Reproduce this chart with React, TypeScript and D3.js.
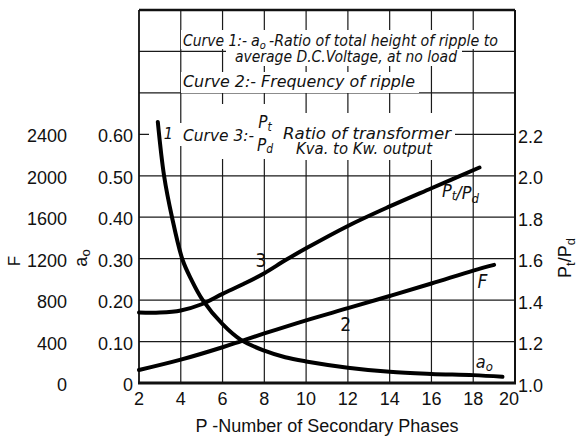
import React from "react";
import * as d3 from "d3";

// ---- data ----
const xTicks = [2, 4, 6, 8, 10, 12, 14, 16, 18, 20];
const a0Ticks = [0, 0.1, 0.2, 0.3, 0.4, 0.5, 0.6];
const a0TickLabels = ["0", "0.10", "0.20", "0.30", "0.40", "0.50", "0.60"];
const fTicks = [0, 400, 800, 1200, 1600, 2000, 2400];
const rTicks = [1.0, 1.2, 1.4, 1.6, 1.8, 2.0, 2.2];
const rTickLabels = ["1.0", "1.2", "1.4", "1.6", "1.8", "2.0", "2.2"];

// Curve 1: a0 ripple ratio
const curve1P = [2.9, 3.2, 3.58, 4.08, 4.5, 5.05, 6, 6.88, 8, 9, 10, 12, 14, 16, 18, 19.4];
const curve1A0 = [0.63, 0.5, 0.4, 0.298, 0.25, 0.2, 0.142, 0.104, 0.078, 0.062, 0.052, 0.037, 0.027, 0.022, 0.019, 0.015];

// Curve 2: frequency of ripple F
const curve2P = [2, 4, 6, 6.9, 8, 10, 12, 14, 16, 18, 19];
const curve2F = [125, 225, 345, 405, 478, 605, 722, 840, 960, 1085, 1140];

// Curve 3: Pt/Pd
const curve3P = [2, 3, 4, 5, 6, 7, 8, 9, 10, 12, 14, 16, 18.3];
const curve3R = [1.34, 1.34, 1.35, 1.38, 1.43, 1.478, 1.53, 1.592, 1.65, 1.758, 1.852, 1.94, 2.04];

const SANS = "'Liberation Sans', Arial, sans-serif";
const ITAL = "'Liberation Sans Narrow', 'DejaVu Sans Condensed', 'Liberation Sans', sans-serif";

export default function App() {
  const W = 580, H = 437;
  const L = 139, R = 515, T = 10, B = 383;
  const x = d3.scaleLinear().domain([2, 20]).range([L, R]);
  const yA = d3.scaleLinear().domain([0, 0.9]).range([B, T]);
  const yF = d3.scaleLinear().domain([0, 3600]).range([B, T]);
  const yR = d3.scaleLinear().domain([1.0, 2.8]).range([B, T]);

  const line = (ys: (v: number) => number) =>
    d3.line<[number, number]>().x((d) => x(d[0])).y((d) => ys(d[1])).curve(d3.curveCatmullRom.alpha(0.5));

  const c1 = line(yA)(curve1P.map((p, i) => [p, curve1A0[i]]) as [number, number][]) || "";
  const c2 = line(yF)(curve2P.map((p, i) => [p, curve2F[i]]) as [number, number][]) || "";
  const c3 = line(yR)(curve3P.map((p, i) => [p, curve3R[i]]) as [number, number][]) || "";

  const gridY = d3.range(1, 9).map((i) => i / 10);
  const gridX = xTicks.slice(1, -1);

  return (
    <svg width={W} height={H} style={{ position: "absolute", left: 0, top: 0, background: "#fff" }}>
      <rect x={0} y={0} width={W} height={H} fill="#fff" />
      {/* grid */}
      <g stroke="#1a1a1a" strokeWidth={1.2}>
        {gridX.map((p) => (
          <line key={"gx" + p} x1={x(p)} x2={x(p)} y1={T} y2={B} />
        ))}
        {gridY.map((v) => (
          <line key={"gy" + v} x1={L} x2={R} y1={yA(v)} y2={yA(v)} />
        ))}
      </g>
      {/* frame */}
      <g stroke="#111" fill="none">
        <line x1={L} x2={R} y1={T} y2={T} strokeWidth={2.5} />
        <line x1={L} x2={L} y1={T} y2={B} strokeWidth={1.8} />
        <line x1={R} x2={R} y1={T} y2={B} strokeWidth={2} />
        <line x1={L - 1} x2={R + 1} y1={B} y2={B} strokeWidth={3} />
      </g>

      {/* white backgrounds behind legend text */}
      <g fill="#fff">
        <rect x={181} y={30} width={319} height={19} />
        <rect x={226} y={49} width={236} height={17} />
        <rect x={181} y={72} width={238} height={21} />
        <rect x={149} y={123} width={34} height={23} />
        <rect x={182} y={104} width={100} height={55} />
        <rect x={281} y={113} width={174} height={47} />
      </g>

      {/* legend text */}
      <g fontFamily={ITAL} fontStyle="italic" fontSize={16} fill="#111">
        <text x={183} y={46}>
          <tspan textLength={64} lengthAdjust="spacingAndGlyphs">Curve 1:-</tspan>
          <tspan x={251}>a</tspan>
          <tspan fontSize={11} dy={3}>o</tspan>
          <tspan x={269} dy={-3} textLength={229} lengthAdjust="spacingAndGlyphs">-Ratio of total height of ripple to</tspan>
        </text>
        <text x={235} y={62} textLength={222} lengthAdjust="spacingAndGlyphs">
          average D.C.Voltage, at no load
        </text>
        <text x={183} y={87} textLength={232} lengthAdjust="spacingAndGlyphs">
          Curve 2:- Frequency of ripple
        </text>
        <text x={183} y={141} textLength={71} lengthAdjust="spacingAndGlyphs">
          Curve 3:-
        </text>
        <text x={265} y={128} textAnchor="middle" fontSize={17}>
          P<tspan fontSize={12} dy={3}>t</tspan>
        </text>
        <text x={265} y={151} textAnchor="middle" fontSize={17}>
          P<tspan fontSize={12} dy={2}>d</tspan>
        </text>
        <text x={283} y={139} textLength={168} lengthAdjust="spacingAndGlyphs">
          Ratio of transformer
        </text>
        <text x={296} y={154} textLength={136} lengthAdjust="spacingAndGlyphs">
          Kva. to Kw. output
        </text>
      </g>

      {/* curves */}
      <g fill="none" stroke="#000" strokeWidth={4} strokeLinecap="round" strokeLinejoin="round">
        <path d={c1} />
        <path d={c2} />
        <path d={c3} />
      </g>

      {/* curve labels */}
      <g fontFamily={ITAL} fontStyle="italic" fontSize={16} fill="#111">
        <text x={x(3.4)} y={yA(0.6) + 5} textAnchor="middle">1</text>
        <text x={x(7.84)} y={yR(1.56)} textAnchor="middle" fontStyle="normal" fontSize={19}>3</text>
        <text x={x(11.9)} y={yF(502)} textAnchor="middle" fontStyle="normal" fontSize={19}>2</text>
        <text x={x(18.2)} y={yF(917)} fontSize={19}>F</text>
        <text x={x(16.5)} y={yR(1.9)} fontSize={18}>
          P<tspan fontSize={13} dy={3}>t</tspan>
          <tspan dy={-1} fontSize={18}>/P</tspan>
          <tspan fontSize={13} dy={4}>d</tspan>
        </text>
        <text x={x(18.12)} y={yA(0.037)} fontSize={18}>
          a<tspan fontSize={13} dy={3}>o</tspan>
        </text>
      </g>

      {/* tick labels */}
      <g fontFamily={SANS} fontSize={18} fill="#111">
        {a0Ticks.map((v, i) => (
          <text key={"a" + v} x={133} y={yA(v) + 8} textAnchor="end">{a0TickLabels[i]}</text>
        ))}
        {fTicks.map((v) => (
          <text key={"f" + v} x={67} y={yF(v) + 8} textAnchor="end">{v}</text>
        ))}
        {rTicks.map((v, i) => (
          <text key={"r" + v} x={518} y={yR(v) + 8.5}>{rTickLabels[i]}</text>
        ))}
        {xTicks.map((p, i) => (
          <text key={"x" + p} x={x(p) - (i === xTicks.length - 1 ? 6 : 0)} y={405} textAnchor="middle">{p}</text>
        ))}
        <text x={327} y={432} textAnchor="middle">P -Number of Secondary Phases</text>
        <text transform="translate(20,261) rotate(-90)" textAnchor="middle" fontSize={17}>F</text>
        <text transform="translate(87,258) rotate(-90)" textAnchor="middle">
          a<tspan fontSize={13} dy={3}>o</tspan>
        </text>
        <text transform="translate(571,258) rotate(-90)" textAnchor="middle">
          P<tspan fontSize={13} dy={4}>t</tspan>
          <tspan dy={-4}>/P</tspan>
          <tspan fontSize={13} dy={4}>d</tspan>
        </text>
      </g>
    </svg>
  );
}
